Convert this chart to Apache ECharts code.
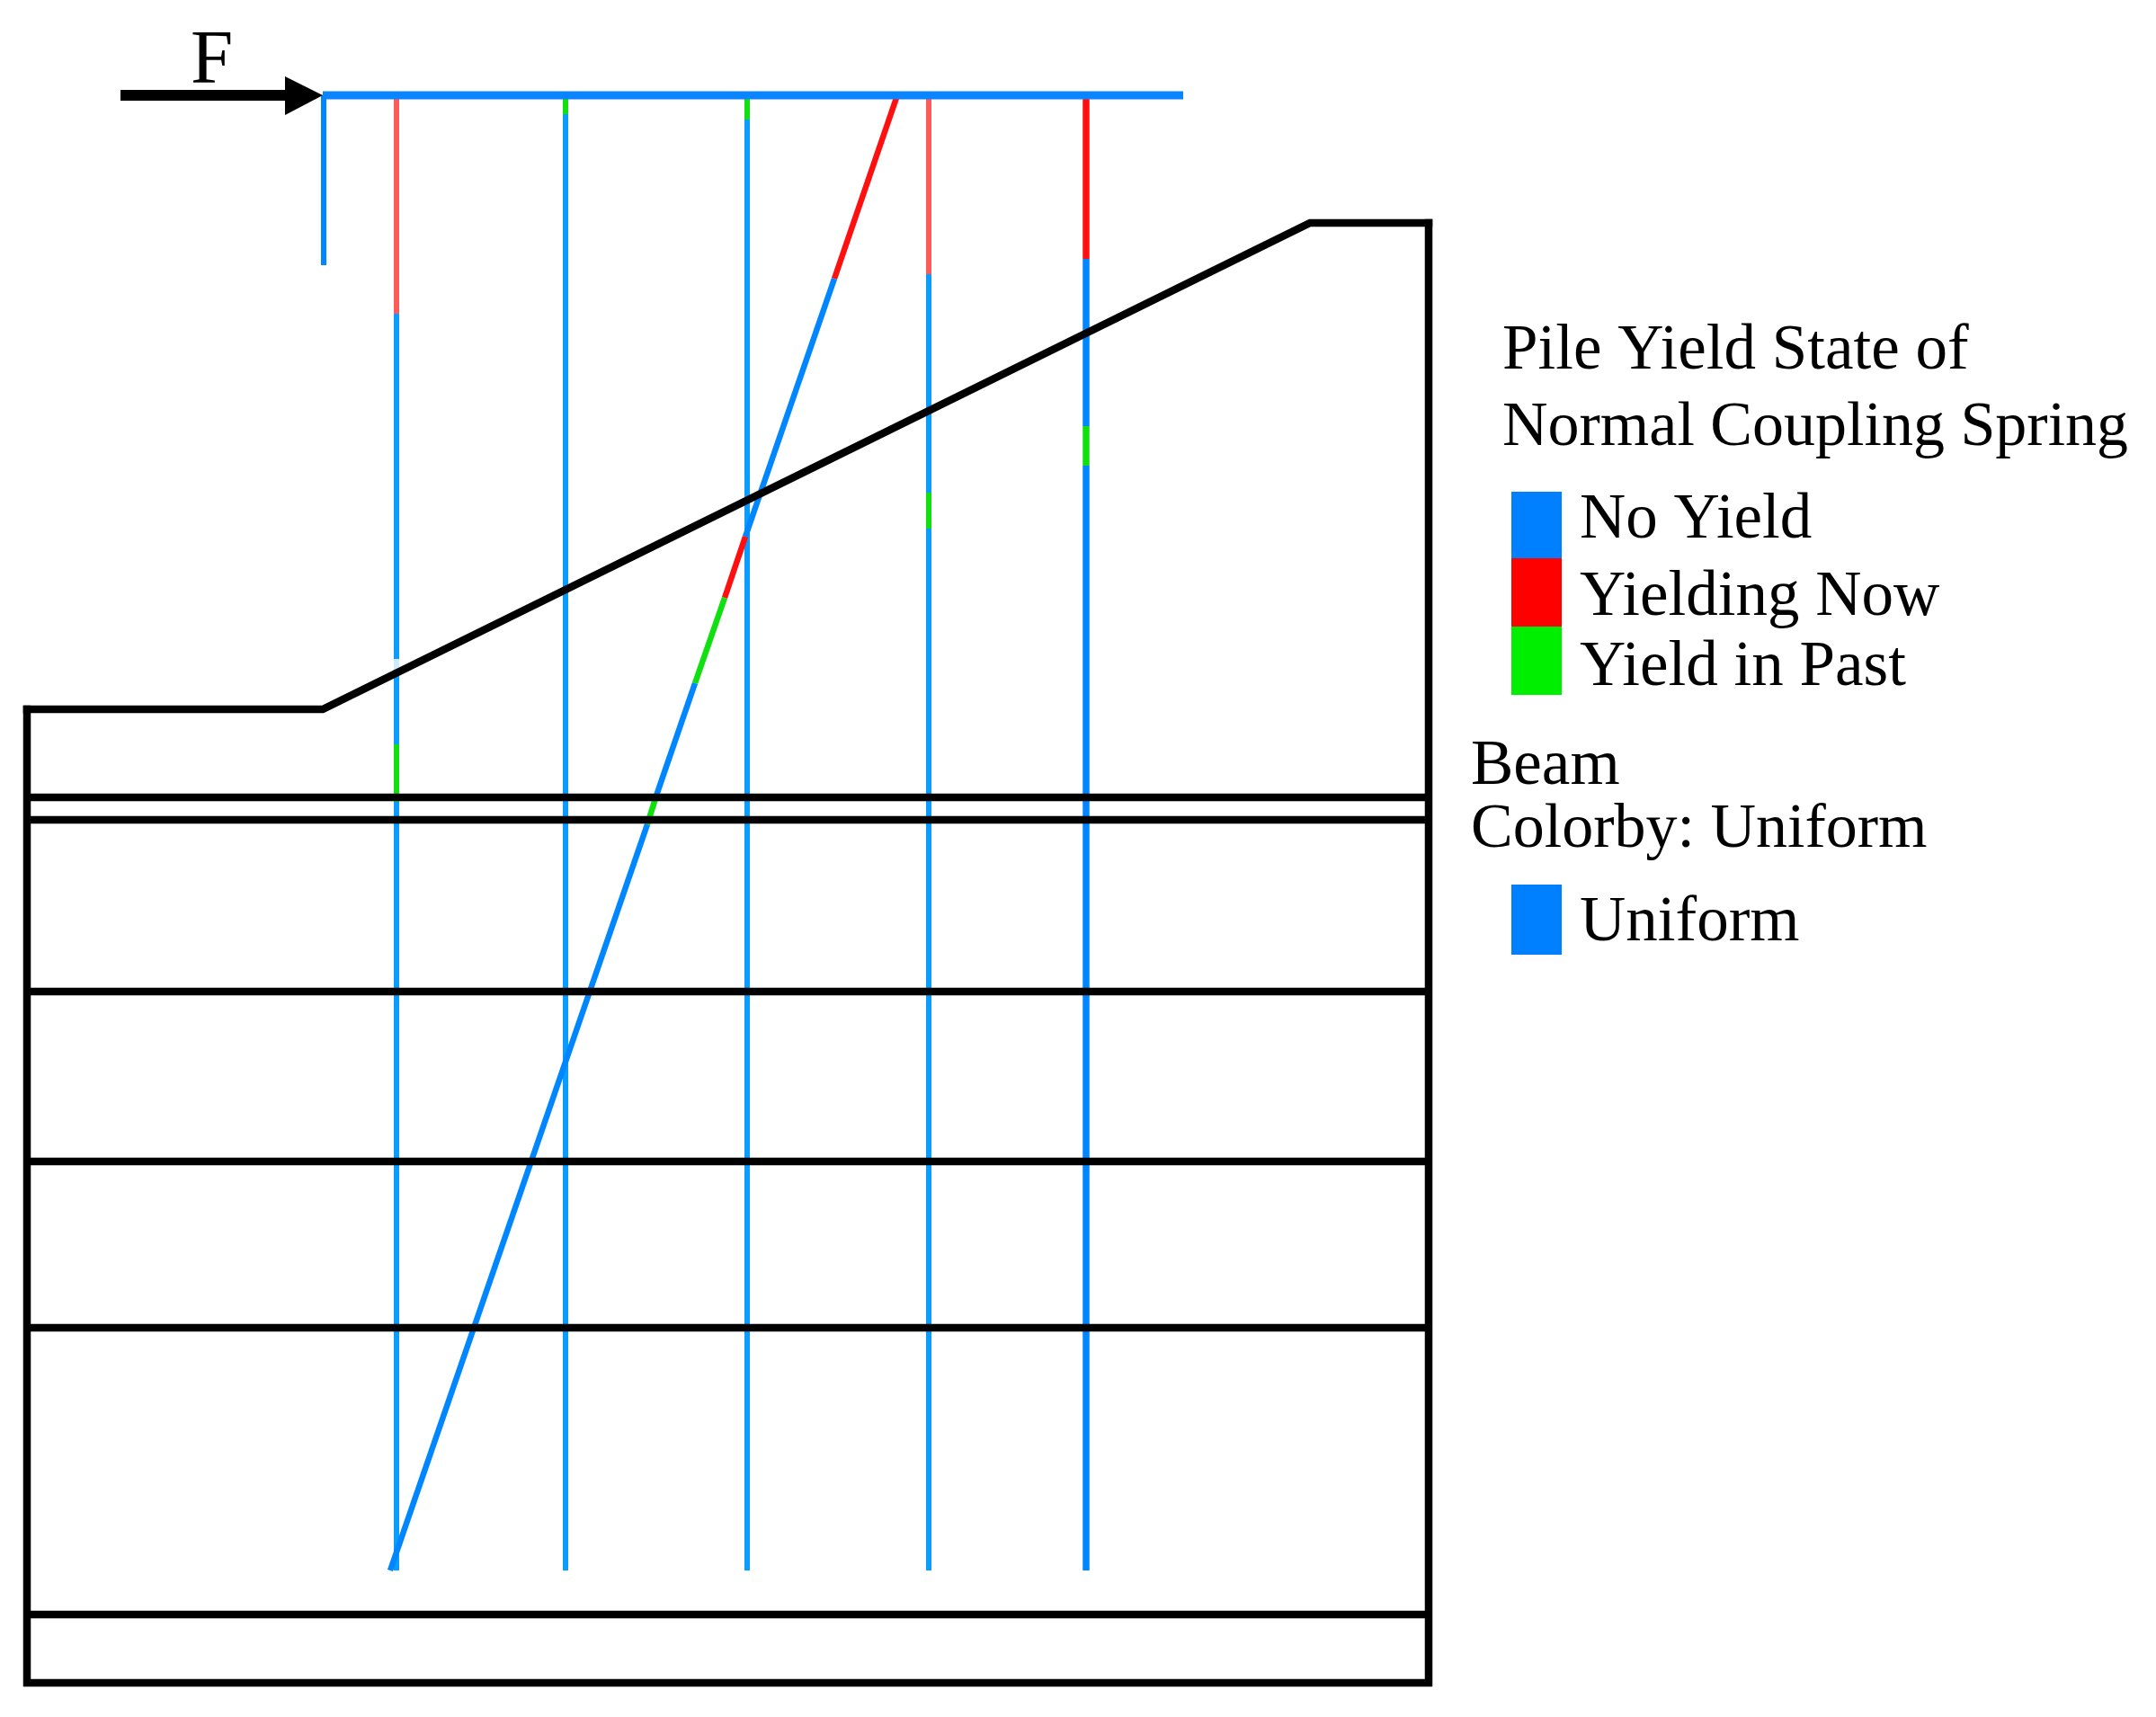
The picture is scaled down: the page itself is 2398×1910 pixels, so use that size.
<!DOCTYPE html>
<html>
<head>
<meta charset="utf-8">
<title>Pile yield state</title>
<style>
  html, body { margin: 0; padding: 0; background: #fff; }
  #chart { width: 2398px; height: 1910px; }
</style>
<script src="https://cdn.jsdelivr.net/npm/echarts@6/dist/echarts.min.js"></script>
</head>
<body>
<div id="chart"></div>
<script>
// Section drawing, in picture units on hidden axes.
const slopeProfile = [[30, 789], [359, 789], [1457, 248], [1589, 248]];
const outerBoundary = [[30, 789], [30, 1872], [1589, 1872], [1589, 248]];
const layerDepths = [887, 912, 1103, 1292, 1477, 1796];
const layerLeft = 30;
const layerRight = 1589;

const beamLine = [[359, 106], [1316, 106]];
const beamStub = [[360, 106], [360, 295]];

// Vertical piles: x, then the y breaks and the state of each stretch between them
const pile1X = 441;
const pile1Breaks = [106, 349, 733, 745, 828, 892, 1747];
const pile1States = ['red', 'blue', 'fade', 'blue', 'green', 'blue'];
const pile2X = 629;
const pile2Breaks = [106, 127, 1747];
const pile2States = ['green', 'blue'];
const pile3X = 831;
const pile3Breaks = [106, 133, 1747];
const pile3States = ['green', 'blue'];
const pile4X = 1033;
const pile4Breaks = [106, 305, 548, 588, 1747];
const pile4States = ['red', 'blue', 'green', 'blue'];
const pile5X = 1208;
const pile5Breaks = [106, 288, 474, 518, 1747];
const pile5States = ['red', 'deep', 'green', 'deep'];

// Raked pile: points along it with the state of each stretch
const rakedPoints = [[998, 106], [928, 310], [829, 597], [806, 665], [773, 760], [730, 885], [720, 917], [434, 1747]];
const rakedStates = ['red', 'deep', 'red', 'green', 'deep', 'green', 'deep'];

const arrowShaft = [[134, 106], [320, 106]];
const arrowHead = [[317, 85], [359, 106], [317, 128]];

const legendStates = ['No Yield', 'Yielding Now', 'Yield in Past'];
const legendColors = ['#0080ff', '#ff0000', '#00ee00'];

const colors = {
  blue: '#0a9cff', deep: '#0086ff', red: '#ff5a5a', green: '#10e010', fade: '#cfe9ff'
};
const solidRed = '#ff1010';

const series = [];

function addLine(points, color, width, cap) {
  series.push({
    type: 'line',
    data: points,
    showSymbol: false,
    silent: true,
    animation: false,
    z: color === '#000' ? 5 : 3,
    lineStyle: { color, width, cap: cap || 'butt', join: 'miter' }
  });
}

function addVerticalPile(x, breaks, states, width, red) {
  states.forEach((s, i) => {
    const c = s === 'red' ? red : colors[s];
    addLine([[x, breaks[i]], [x, breaks[i + 1]]], c, width);
  });
}

addVerticalPile(pile1X, pile1Breaks, pile1States, 6, colors.red);
addVerticalPile(pile2X, pile2Breaks, pile2States, 6, colors.red);
addVerticalPile(pile3X, pile3Breaks, pile3States, 6, colors.red);
addVerticalPile(pile4X, pile4Breaks, pile4States, 6, colors.red);
addVerticalPile(pile5X, pile5Breaks, pile5States, 7.5, solidRed);

rakedStates.forEach((s, i) => {
  addLine([rakedPoints[i], rakedPoints[i + 1]], s === 'red' ? solidRed : colors[s], 6.5);
});

addLine(beamStub, colors.deep, 6);
addLine(beamLine, '#0a84ff', 9);

addLine(slopeProfile, '#000', 8.5, 'square');
addLine(outerBoundary, '#000', 8.5, 'square');
layerDepths.forEach(y => addLine([[layerLeft, y], [layerRight, y]], '#000', 8.5));

addLine(arrowShaft, '#000', 12);
series.push({
  type: 'custom',
  silent: true,
  animation: false,
  z: 6,
  data: [0],
  renderItem: (params, api) => ({
    type: 'polygon',
    shape: { points: arrowHead.map(p => api.coord(p)) },
    style: { fill: '#000' }
  })
});

const serif = '"Liberation Serif", "Times New Roman", serif';
function label(text, x, y, size) {
  return {
    type: 'text', x, y,
    style: { text, font: `${size}px ${serif}`, fill: '#000' }
  };
}
function swatch(x, y, w, h, fill) {
  return { type: 'rect', shape: { x, y, width: w, height: h }, style: { fill } };
}

const graphicItems = [
  label('F', 212, 27, 85),
  label('Pile Yield State of', 1671, 356, 71),
  label('Normal Coupling Spring', 1671, 442, 70),
  label(legendStates[0], 1757, 544, 71),
  label(legendStates[1], 1757, 630, 71),
  label(legendStates[2], 1757, 708, 71),
  label('Beam', 1636, 818, 71),
  label('Colorby: Uniform', 1636, 889, 70),
  label('Uniform', 1757, 992, 71),
  swatch(1681, 547, 56, 74, legendColors[0]),
  swatch(1681, 621, 56, 76, legendColors[1]),
  swatch(1681, 697, 56, 76, legendColors[2]),
  swatch(1681, 984, 56, 78, legendColors[0])
];

const chart = echarts.init(document.getElementById('chart'), null, { renderer: 'canvas' });
chart.setOption({
  animation: false,
  backgroundColor: '#fff',
  grid: { left: 0, right: 0, top: 0, bottom: 0 },
  xAxis: { type: 'value', min: 0, max: 2398, show: false },
  yAxis: { type: 'value', min: 0, max: 1910, inverse: true, show: false },
  graphic: graphicItems,
  series
});
</script>
</body>
</html>
